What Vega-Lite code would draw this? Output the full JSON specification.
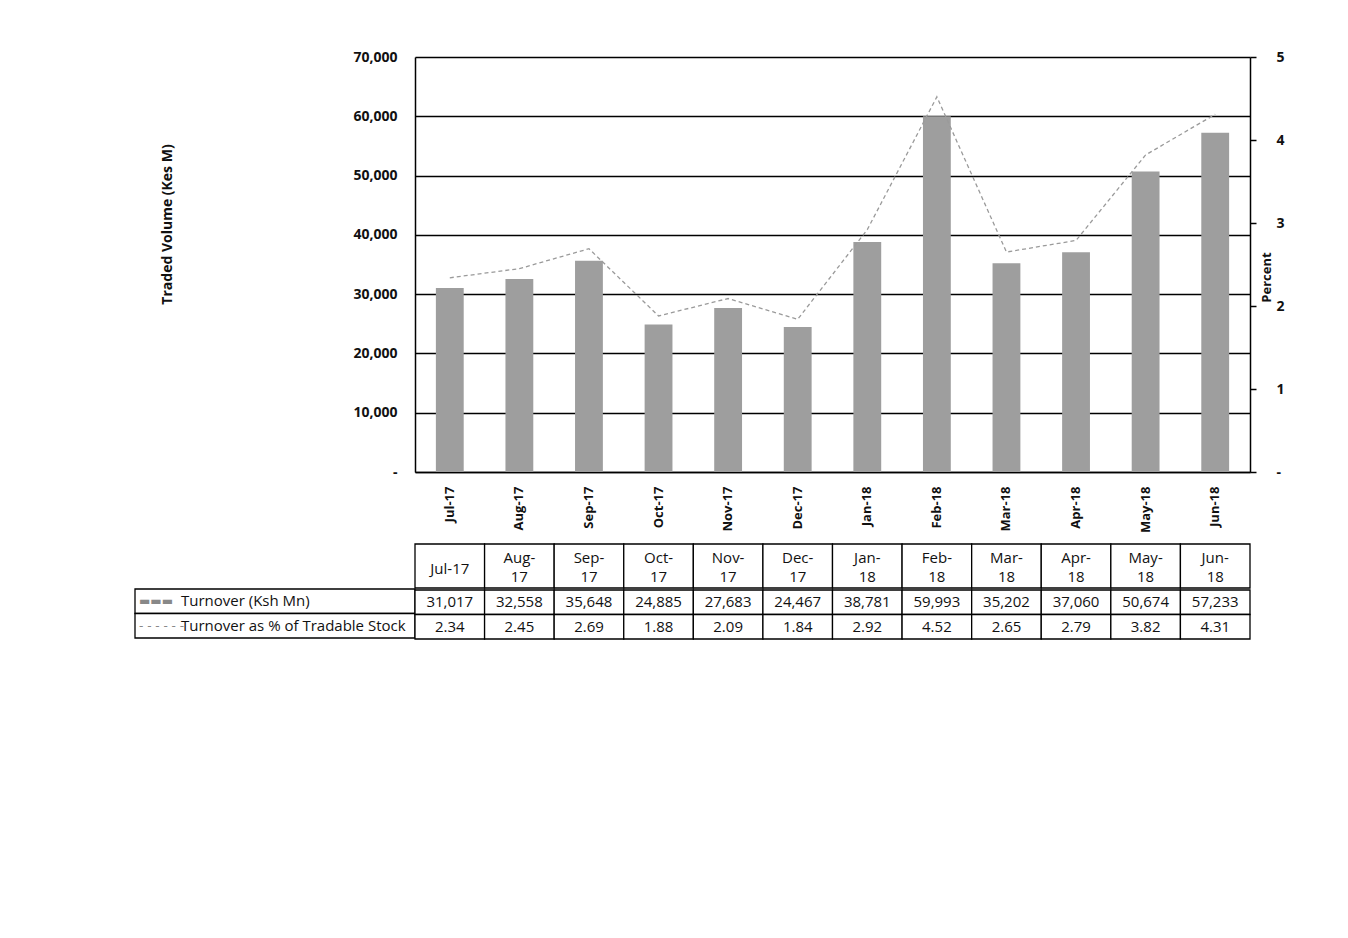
{
  "$schema": "https://vega.github.io/schema/vega-lite/v6.json",
  "padding": {"left": 134, "top": 50, "right": 5, "bottom": 5},
  "background": "white",
  "bounds": "flush",
  "columns": 2,
  "spacing": {"row": 72, "column": 0},
  "config": {"view": {"stroke": null}, "font": "Open Sans"},
  "datasets": {
    "main": [
      {"month": "Jul-17", "turnover": 31017, "pct": 2.34},
      {"month": "Aug-17", "turnover": 32558, "pct": 2.45},
      {"month": "Sep-17", "turnover": 35648, "pct": 2.69},
      {"month": "Oct-17", "turnover": 24885, "pct": 1.88},
      {"month": "Nov-17", "turnover": 27683, "pct": 2.09},
      {"month": "Dec-17", "turnover": 24467, "pct": 1.84},
      {"month": "Jan-18", "turnover": 38781, "pct": 2.92},
      {"month": "Feb-18", "turnover": 59993, "pct": 4.52},
      {"month": "Mar-18", "turnover": 35202, "pct": 2.65},
      {"month": "Apr-18", "turnover": 37060, "pct": 2.79},
      {"month": "May-18", "turnover": 50674, "pct": 3.82},
      {"month": "Jun-18", "turnover": 57233, "pct": 4.31}
    ]
  },
  "concat": [
    {
      "width": 280, "height": 415,
      "data": {"values": [{}]},
      "mark": {"type": "text"},
      "encoding": {"text": {"value": ""}}
    },
    {
      "width": 835, "height": 415,
      "data": {"name": "main"},
      "encoding": {
        "x": {
          "field": "month", "type": "ordinal", "sort": null,
          "scale": {"paddingInner": 0.6, "paddingOuter": 0.3},
          "axis": {
            "title": null, "labelAngle": -90, "ticks": false,
            "domainColor": "black", "domainWidth": 1.5,
            "labelFont": "Open Sans", "labelFontSize": 13, "labelFontWeight": "bold",
            "labelColor": "#111", "labelPadding": 14
          }
        }
      },
      "layer": [
        {
          "mark": {"type": "bar", "color": "#9e9e9e"},
          "encoding": {
            "y": {
              "field": "turnover", "type": "quantitative",
              "scale": {"domain": [0, 70000]},
              "axis": {
                "title": "Traded Volume (Kes M)",
                "values": [0, 10000, 20000, 30000, 40000, 50000, 60000, 70000],
                "labelExpr": "datum.value == 0 ? '-' : format(datum.value, ',')",
                "grid": true, "gridColor": "black", "gridWidth": 1.3, "gridOpacity": 1,
                "domainColor": "black", "domainWidth": 1.5,
                "ticks": false, "labelPadding": 18,
                "labelFont": "Open Sans", "labelFontSize": 14, "labelFontWeight": "bold", "labelColor": "#111",
                "titleFont": "Open Sans", "titleFontSize": 14, "titleFontWeight": "bold", "titleColor": "#111",
                "titleX": -248, "titleY": 167, "titleAlign": "center", "titleBaseline": "middle"
              }
            }
          }
        },
        {
          "mark": {"type": "line", "color": "#9a9a9a", "strokeDash": [4, 3], "strokeWidth": 1.3},
          "encoding": {
            "y": {
              "field": "pct", "type": "quantitative",
              "scale": {"domain": [0, 5]},
              "axis": {
                "orient": "right", "title": "Percent",
                "values": [0, 1, 2, 3, 4, 5],
                "labelExpr": "datum.value == 0 ? '-' : datum.label",
                "grid": false, "domainColor": "black", "domainWidth": 1.5,
                "tickColor": "black", "tickSize": 6, "tickWidth": 1.5, "labelPadding": 20,
                "labelFont": "Open Sans", "labelFontSize": 14, "labelFontWeight": "bold", "labelColor": "#111",
                "titleFont": "Open Sans", "titleFontSize": 13, "titleFontWeight": "bold", "titleColor": "#111",
                "titleAngle": 270, "titleX": 16, "titleY": 220, "titleAlign": "center", "titleBaseline": "middle"
              }
            }
          }
        }
      ],
      "resolve": {"scale": {"y": "independent"}}
    },
    {
      "spacing": 0,
      "vconcat": [
        {
          "width": 280, "height": 44,
          "data": {"values": [{}]},
          "mark": {"type": "text"},
          "encoding": {"text": {"value": ""}}
        },
        {
          "width": 280, "height": 49,
          "data": {"values": [
            {"row": "turnover", "label": "Turnover (Ksh Mn)", "sym": "▬▬▬"},
            {"row": "pct", "label": "Turnover as % of Tradable Stock", "sym": "- - - - - -"}
          ]},
          "encoding": {
            "y": {"field": "row", "type": "nominal", "sort": ["turnover", "pct"], "axis": null,
                  "scale": {"paddingInner": 0, "paddingOuter": 0}}
          },
          "layer": [
            {"mark": {"type": "rect", "fill": "white", "stroke": "black", "strokeWidth": 1.3}},
            {"mark": {"type": "text", "align": "left", "dx": -136, "fontSize": 12, "color": "#888", "font": "DejaVu Sans"},
             "encoding": {"text": {"field": "sym"}}},
            {"mark": {"type": "text", "align": "left", "dx": -94, "fontSize": 15, "color": "#111", "font": "Open Sans"},
             "encoding": {"text": {"field": "label"}}}
          ]
        }
      ]
    },
    {
      "spacing": 0,
      "vconcat": [
        {
          "width": 835, "height": 44,
          "data": {"name": "main"},
          "transform": [
            {"calculate": "datum.month == 'Jul-17' ? 'Jul-17' : [split(datum.month, '-')[0] + '-', split(datum.month, '-')[1]]", "as": "hdr"}
          ],
          "encoding": {
            "x": {"field": "month", "type": "ordinal", "sort": null, "axis": null,
                  "scale": {"paddingInner": 0, "paddingOuter": 0}}
          },
          "layer": [
            {"mark": {"type": "rect", "fill": "white", "stroke": "black", "strokeWidth": 1.3}},
            {"transform": [{"filter": "datum.month == 'Jul-17'"}],
             "mark": {"type": "text", "fontSize": 15, "dy": 3, "color": "#111", "font": "Open Sans"},
             "encoding": {"text": {"field": "hdr"}}},
            {"transform": [{"filter": "datum.month != 'Jul-17'"}],
             "mark": {"type": "text", "fontSize": 15, "lineHeight": 19, "dy": -8, "color": "#111", "font": "Open Sans"},
             "encoding": {"text": {"field": "hdr"}}}
          ]
        },
        {
          "width": 835, "height": 49,
          "data": {"name": "main"},
          "transform": [
            {"fold": ["turnover", "pct"], "as": ["row", "val"]},
            {"calculate": "datum.row == 'turnover' ? format(datum.val, ',') : format(datum.val, '.2f')", "as": "txt"}
          ],
          "encoding": {
            "x": {"field": "month", "type": "ordinal", "sort": null, "axis": null,
                  "scale": {"paddingInner": 0, "paddingOuter": 0}},
            "y": {"field": "row", "type": "nominal", "sort": ["turnover", "pct"], "axis": null,
                  "scale": {"paddingInner": 0, "paddingOuter": 0}}
          },
          "layer": [
            {"mark": {"type": "rect", "fill": "white", "stroke": "black", "strokeWidth": 1.3}},
            {"mark": {"type": "text", "fontSize": 15, "color": "#111", "font": "Open Sans"},
             "encoding": {"text": {"field": "txt"}}}
          ]
        }
      ]
    }
  ]
}
